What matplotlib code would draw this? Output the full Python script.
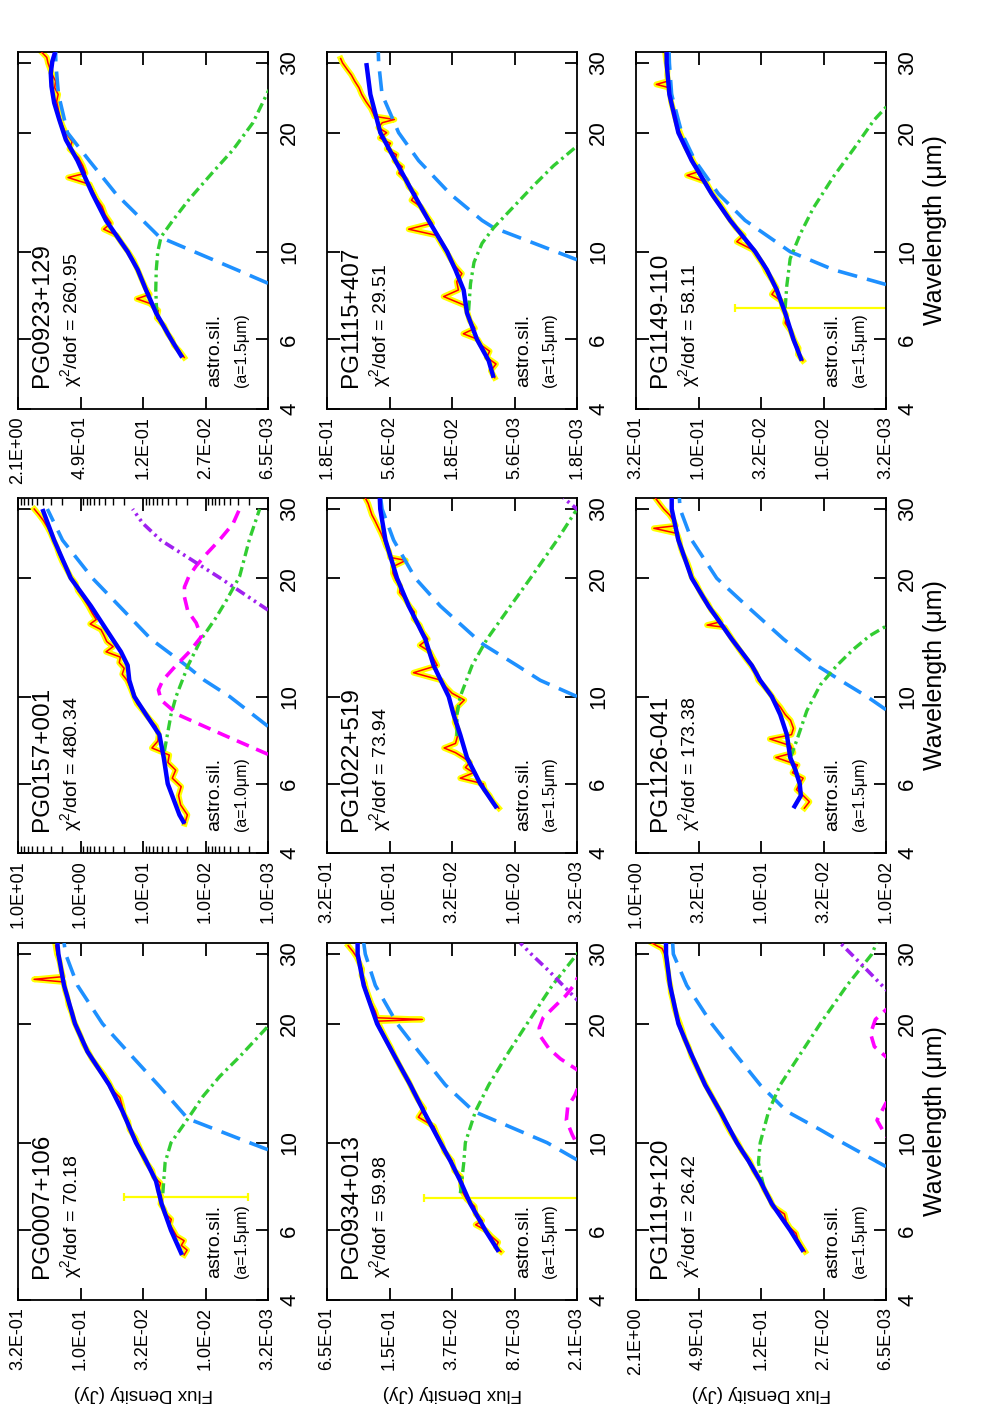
import numpy as np
import matplotlib
matplotlib.use("Agg")
import matplotlib.pyplot as plt
from matplotlib.ticker import NullLocator, LogLocator, NullFormatter

plt.rcParams['font.family'] = ['Liberation Sans', 'DejaVu Sans']
plt.rcParams['mathtext.fontset'] = 'custom'
plt.rcParams['mathtext.rm'] = 'Liberation Sans'
plt.rcParams['mathtext.it'] = 'Liberation Sans:italic'

# ---- panel labels ----
names = ["PG0923+129", "PG1115+407", "PG1149-110",
         "PG0157+001", "PG1022+519", "PG1126-041",
         "PG0007+106", "PG0934+013", "PG1119+120"]
chi2 = ["260.95", "29.51", "58.11",
        "480.34", "73.94", "173.38",
        "70.18", "59.98", "26.42"]
grain = ["1.5", "1.5", "1.5",
         "1.0", "1.5", "1.5",
         "1.5", "1.5", "1.5"]
flux_ticks = [
    ["2.1E+00", "4.9E-01", "1.2E-01", "2.7E-02", "6.5E-03"],
    ["1.8E-01", "5.6E-02", "1.8E-02", "5.6E-03", "1.8E-03"],
    ["3.2E-01", "1.0E-01", "3.2E-02", "1.0E-02", "3.2E-03"],
    ["1.0E+01", "1.0E+00", "1.0E-01", "1.0E-02", "1.0E-03"],
    ["3.2E-01", "1.0E-01", "3.2E-02", "1.0E-02", "3.2E-03"],
    ["1.0E+00", "3.2E-01", "1.0E-01", "3.2E-02", "1.0E-02"],
    ["3.2E-01", "1.0E-01", "3.2E-02", "1.0E-02", "3.2E-03"],
    ["6.5E-01", "1.5E-01", "3.7E-02", "8.7E-03", "2.1E-03"],
    ["2.1E+00", "4.9E-01", "1.2E-01", "2.7E-02", "6.5E-03"],
]
wave_ticks = [4, 6, 10, 20, 30]

# ---- PG0923+129 ----
w0923_obs = [5.4, 5.6, 5.8, 6.0, 6.2, 6.5, 6.8, 7.1, 7.4, 7.6, 7.8, 8.1, 8.5, 9.0, 9.5, 10.0, 10.5,
             11.0, 11.4, 11.8, 12.4, 13.0, 13.6, 14.2, 14.8, 15.4, 15.8, 16.5, 17.3, 18.2, 19.0,
             20.0, 21.0, 22.0, 23.0, 24.0, 25.0, 26.0, 27.0, 28.0, 29.0, 30.0, 31.0, 32.0]
f0923_obs = [0.045, 0.050, 0.057, 0.060, 0.066, 0.072, 0.085, 0.082, 0.100, 0.135, 0.100, 0.110,
             0.120, 0.132, 0.145, 0.165, 0.190, 0.215, 0.290, 0.245, 0.280, 0.300, 0.340, 0.370,
             0.400, 0.660, 0.440, 0.470, 0.520, 0.640, 0.600, 0.700, 0.760, 0.800, 0.830, 0.860,
             0.830, 0.900, 0.880, 0.950, 1.00, 1.05, 1.08, 1.22]
w0923_tot = [5.4, 6, 7, 8, 9, 10, 12, 14, 17, 19.2, 21.6, 23.8, 26.2, 28.3, 30.3, 32]
f0923_tot = [0.0472, 0.061, 0.0864, 0.109, 0.132, 0.1665, 0.275, 0.375, 0.531, 0.695, 0.81, 0.91,
             0.969, 0.985, 0.95, 0.89]
w0923_cold = [8.32, 9, 10, 10.9, 12, 14, 17, 20, 25, 30, 32]
f0923_cold = [0.0065, 0.0134, 0.0358, 0.080, 0.1176, 0.218, 0.405, 0.669, 0.824, 0.877, 0.88]
w0923_warm = [7, 8, 9, 10, 10.9, 12, 13.6, 15.9, 18.1, 21.2, 25.4, 27]
f0923_warm = [0.085, 0.087, 0.086, 0.083, 0.077, 0.0586, 0.0399, 0.0232, 0.0146, 0.0092, 0.0065, 0.0055]

# ---- PG1115+407 ----
w1115_obs = [4.8, 5.0, 5.2, 5.4, 5.6, 5.8, 6.0, 6.2, 6.4, 6.7, 7.0, 7.3, 7.7, 8.0, 8.4, 8.8, 9.2,
             9.6, 10.0, 10.5, 11.0, 11.4, 11.8, 12.4, 13.0, 13.5, 14.0, 14.6, 15.2, 15.8, 16.4,
             17.0, 17.6, 18.2, 18.8, 19.4, 20.0, 20.6, 21.2, 21.6, 22.0, 23.0, 24.0, 25.0, 26.0,
             27.0, 28.0, 29.0, 30.0, 30.8]
f1115_obs = [0.0082, 0.0088, 0.0080, 0.0095, 0.0090, 0.0105, 0.0112, 0.0146, 0.0118, 0.0130,
             0.0135, 0.0140, 0.0210, 0.0160, 0.0165, 0.0150, 0.0170, 0.0185, 0.0200, 0.0220,
             0.0240, 0.0400, 0.0260, 0.0290, 0.0320, 0.0380, 0.0350, 0.0400, 0.0420, 0.0480,
             0.0450, 0.0520, 0.0500, 0.0600, 0.0560, 0.0680, 0.0600, 0.0700, 0.0650, 0.0520,
             0.0750, 0.0800, 0.0880, 0.0950, 0.1000, 0.1080, 0.1150, 0.1250, 0.1350, 0.1400]
w1115_tot = [4.8, 5.3, 6, 7, 8, 9, 10, 12, 14, 17, 20, 25, 30]
f1115_tot = [0.00836, 0.00916, 0.01136, 0.01366, 0.01453, 0.0169, 0.0197, 0.0277, 0.0365, 0.0511,
             0.0674, 0.081, 0.0872]
w1115_cold = [9.54, 10, 11.5, 12, 14, 17, 20, 25, 30, 32]
f1115_cold = [0.0018, 0.00265, 0.00836, 0.01035, 0.0186, 0.0333, 0.0481, 0.0653, 0.0695, 0.070]
w1115_warm = [7.1, 8.3, 9.4, 10.5, 11.5, 13.0, 14.7, 16.5, 18.5, 19.5]
f1115_warm = [0.01325, 0.0128, 0.012, 0.01035, 0.00836, 0.00578, 0.0040, 0.00277, 0.0018, 0.0015]

# ---- PG1149-110 ----
w1149_obs = [5.3, 5.5, 5.7, 5.9, 6.1, 6.3, 6.6, 6.9, 7.2, 7.5, 7.8, 8.1, 8.5, 8.9, 9.3, 9.7, 10.1,
             10.6, 11.0, 11.5, 12.0, 12.6, 13.2, 13.8, 14.4, 15.0, 15.6, 16.0, 16.8, 17.6, 18.4,
             19.2, 20.0, 21.0, 22.0, 23.0, 24.0, 25.0, 26.0, 26.5, 27.0, 28.0, 29.0, 30.0, 31.0, 32.0]
f1149_obs = [0.0148, 0.0162, 0.0160, 0.0170, 0.0178, 0.0185, 0.0205, 0.0200, 0.0215, 0.0220,
             0.0262, 0.0240, 0.0262, 0.0290, 0.0310, 0.0340, 0.0370, 0.0500, 0.0440, 0.0510,
             0.0560, 0.0620, 0.0680, 0.0760, 0.0820, 0.0880, 0.1250, 0.0980, 0.1100, 0.1180,
             0.1280, 0.1350, 0.1420, 0.1500, 0.1560, 0.1620, 0.1680, 0.1700, 0.1750, 0.2200,
             0.1780, 0.1800, 0.1790, 0.1820, 0.1850, 0.1870]
w1149_tot = [5.3, 6, 7, 8, 9, 10, 12, 14, 17, 20, 25, 30, 32]
f1149_tot = [0.0151, 0.0176, 0.0205, 0.0239, 0.0287, 0.0356, 0.0565, 0.0793, 0.1146, 0.1466,
             0.173, 0.182, 0.182]
w1149_cold = [8.26, 9, 10, 12, 14, 17, 20, 25, 30, 32]
f1149_cold = [0.0032, 0.0084, 0.0187, 0.0429, 0.070, 0.108, 0.138, 0.166, 0.173, 0.174]
w1149_warm = [7.2, 8.2, 9.6, 11.1, 12.9, 15.5, 18.2, 21.5, 23.2, 25]
f1149_warm = [0.0205, 0.0199, 0.0187, 0.0155, 0.0122, 0.0084, 0.0058, 0.0040, 0.0032, 0.0026]
err1149 = [7.2, 0.021, 0.002, 0.052]  # wavelength, flux, low, high

# ---- PG0157+001 ----
w0157_obs = [4.75, 5.0, 5.3, 5.6, 5.9, 6.2, 6.5, 6.8, 7.1, 7.4, 7.7, 8.0, 8.4, 8.8, 9.2, 9.6, 10.0,
             10.5, 11.0, 11.4, 11.8, 12.2, 12.6, 13.0, 13.4, 13.8, 14.3, 14.8, 15.3, 15.7, 16.3,
             17.0, 17.8, 18.6, 19.4, 20.2, 21.0, 22.0, 23.0, 24.0, 25.0, 26.0, 27.0, 28.0, 29.0, 30.0]
f0157_obs = [0.0215, 0.0195, 0.025, 0.027, 0.0245, 0.034, 0.030, 0.040, 0.038, 0.072, 0.058,
             0.056, 0.062, 0.080, 0.100, 0.125, 0.140, 0.158, 0.180, 0.215, 0.200, 0.240, 0.230,
             0.390, 0.300, 0.380, 0.420, 0.470, 0.700, 0.560, 0.650, 0.750, 0.900, 1.10, 1.20,
             1.45, 1.65, 1.95, 2.2, 2.4, 2.7, 3.0, 3.4, 3.9, 4.6, 5.5]
w0157_tot = [4.75, 5, 6, 7, 8, 9, 10, 11, 12, 13, 14, 17, 20, 25, 30]
f0157_tot = [0.0217, 0.0261, 0.0402, 0.0466, 0.0547, 0.0895, 0.1377, 0.1656, 0.176, 0.2254, 0.307,
             0.682, 1.429, 2.645, 4.07]
w0157_cold = [8.4, 10, 11, 12, 14, 17, 20, 25, 30]
f0157_cold = [0.001, 0.0041, 0.0104, 0.0204, 0.0745, 0.24, 0.642, 1.94, 3.39]
w0157_warm = [7.26, 9, 10, 12, 14, 15.9, 17.6, 20.2, 25.2, 30]
f0157_warm = [0.0455, 0.0356, 0.0296, 0.019, 0.0117, 0.00675, 0.0046, 0.00285, 0.00197, 0.00136]
w0157_pah = [7.13, 8.0, 9.0, 9.8, 10.4, 11.0, 12.0, 13.0, 14.2, 15.4, 16.5, 17.9, 19.0, 20.2, 21.5,
             23.0, 25.0, 27.5, 30.0]
f0157_pah = [0.001, 0.00527, 0.0278, 0.0514, 0.0566, 0.0483, 0.0296, 0.0181, 0.0117, 0.0141,
             0.0192, 0.0217, 0.0217, 0.0185, 0.0141, 0.0098, 0.006, 0.00364, 0.00285]
w0157_hot = [16.6, 20, 25, 27.6, 30]
f0157_hot = [0.001, 0.00575, 0.0521, 0.101, 0.1465]

# ---- PG1022+519 ----
w1022_obs = [5.2, 5.4, 5.6, 5.8, 6.0, 6.2, 6.4, 6.6, 6.8, 7.0, 7.2, 7.4, 7.6, 7.9, 8.2, 8.6, 9.0,
             9.4, 9.8, 10.2, 10.6, 11.0, 11.5, 12.0, 12.5, 13.0, 13.5, 14.0, 14.6, 15.2, 15.8,
             16.4, 17.0, 17.7, 18.4, 19.1, 19.8, 20.6, 21.4, 22.2, 22.6, 23.4, 24.2, 25.0, 26.0,
             27.0, 28.0, 29.0, 30.0, 31.0, 32.0]
f1022_obs = [0.0135, 0.0150, 0.0160, 0.0175, 0.0180, 0.0275, 0.0215, 0.0250, 0.0230, 0.0260,
             0.0300, 0.0370, 0.0300, 0.0290, 0.0285, 0.0305, 0.0300, 0.0290, 0.0255, 0.0320,
             0.0360, 0.0390, 0.0650, 0.0420, 0.0450, 0.0480, 0.0580, 0.0500, 0.0550, 0.0580,
             0.0650, 0.0640, 0.0700, 0.0760, 0.0840, 0.0830, 0.0900, 0.0950, 0.0950, 0.0750,
             0.1000, 0.1020, 0.1080, 0.1120, 0.1180, 0.1250, 0.1320, 0.1400, 0.1450, 0.1500, 0.1580]
w1022_tot = [5.2, 6, 7, 8, 9, 10, 12, 14, 17, 20, 25, 30, 32]
f1022_tot = [0.014, 0.019, 0.0243, 0.0275, 0.0311, 0.034, 0.0449, 0.0523, 0.071, 0.0881, 0.109,
             0.12, 0.121]
w1022_cold = [10, 11, 12, 13.55, 14, 17, 20, 25, 30, 32]
f1022_cold = [0.0032, 0.0063, 0.00967, 0.01786, 0.0202, 0.0397, 0.0629, 0.0938, 0.116, 0.119]
w1022_warm = [7.93, 9, 10, 12, 14, 17, 20, 25, 30]
f1022_warm = [0.0292, 0.0292, 0.0275, 0.0221, 0.0168, 0.0109, 0.00755, 0.00462, 0.0032]
w1022_hot = [29.5, 30, 32]
f1022_hot = [0.0030, 0.0032, 0.0041]

# ---- PG1126-041 ----
w1126_obs = [5.2, 5.4, 5.6, 5.8, 6.0, 6.2, 6.4, 6.7, 7.0, 7.2, 7.5, 7.8, 8.0, 8.3, 8.7, 9.0, 9.4,
             9.8, 10.2, 10.6, 11.0, 11.5, 12.0, 12.6, 13.2, 13.8, 14.4, 15.0, 15.2, 15.5, 16.0,
             16.6, 17.2, 17.9, 18.6, 19.4, 20.2, 21.0, 22.0, 23.0, 24.0, 25.0, 26.0, 26.8, 27.2,
             28.0, 29.0, 30.0, 31.0, 32.0]
f1126_obs = [0.045, 0.041, 0.046, 0.052, 0.049, 0.046, 0.056, 0.051, 0.076, 0.055, 0.058, 0.085,
             0.057, 0.055, 0.058, 0.064, 0.070, 0.078, 0.085, 0.094, 0.105, 0.110, 0.120, 0.135,
             0.150, 0.165, 0.180, 0.195, 0.270, 0.210, 0.225, 0.250, 0.265, 0.290, 0.310, 0.330,
             0.360, 0.370, 0.390, 0.420, 0.440, 0.450, 0.470, 0.720, 0.480, 0.500, 0.540, 0.600,
             0.650, 0.700]
w1126_tot = [5.2, 5.6, 6, 6.5, 7, 8, 9, 10, 11, 12, 14, 17, 20, 25, 30, 32]
f1126_tot = [0.055, 0.048, 0.049, 0.053, 0.0584, 0.0621, 0.0702, 0.0819, 0.1016, 0.1184, 0.1713,
             0.2634, 0.358, 0.458, 0.518, 0.518]
w1126_cold = [9.26, 10, 11, 12, 14, 17, 20, 25, 30, 32]
f1126_cold = [0.01, 0.0142, 0.0232, 0.0357, 0.066, 0.13, 0.226, 0.358, 0.444, 0.45]
w1126_warm = [7.0, 7.76, 9.2, 10.7, 12.0, 13.2, 14.3, 15.1, 16]
f1126_warm = [0.058, 0.0516, 0.043, 0.0336, 0.0247, 0.0182, 0.0134, 0.01, 0.0085]

# ---- PG0007+106 ----
w0007_obs = [5.2, 5.35, 5.5, 5.65, 5.8, 6.0, 6.2, 6.4, 6.6, 6.8, 7.0, 7.3, 7.6, 7.9, 8.2, 8.5, 8.9,
             9.3, 9.8, 10.3, 10.8, 11.3, 11.8, 12.4, 13.0, 13.6, 14.2, 14.9, 15.6, 16.3, 17.0,
             17.8, 18.6, 19.5, 20.4, 21.3, 22.3, 23.3, 24.4, 25.5, 25.9, 26.3, 27.5, 28.8, 30.0, 31.5]
f0007_obs = [0.0150, 0.0142, 0.0158, 0.0150, 0.0172, 0.0183, 0.0195, 0.0190, 0.0210, 0.0218,
             0.0232, 0.0228, 0.0240, 0.0232, 0.0262, 0.0270, 0.0300, 0.0320, 0.0345, 0.0370,
             0.0410, 0.0420, 0.0455, 0.0470, 0.0490, 0.0560, 0.0600, 0.0660, 0.0740, 0.0820,
             0.0880, 0.0960, 0.1010, 0.1080, 0.1150, 0.1190, 0.1260, 0.1290, 0.1350, 0.1380,
             0.2380, 0.1400, 0.1450, 0.1490, 0.1560, 0.1600]
w0007_tot = [5.2, 6, 7, 8, 9, 10, 12, 14, 17, 20, 25, 30, 32]
f0007_tot = [0.0156, 0.0191, 0.0227, 0.0252, 0.0303, 0.0364, 0.0466, 0.0596, 0.089, 0.112, 0.137,
             0.152, 0.155]
w0007_cold = [9.6, 10, 11.5, 13.9, 17.2, 20, 25, 30, 32]
f0007_cold = [0.0032, 0.0045, 0.014, 0.0237, 0.0439, 0.0675, 0.107, 0.133, 0.137]
w0007_warm = [7.45, 8.9, 10, 11.5, 13.1, 14.7, 16.5, 19.7, 21]
f0007_warm = [0.0222, 0.0213, 0.0191, 0.0140, 0.0106, 0.0078, 0.0054, 0.0032, 0.0027]
err0007 = [7.3, 0.024, 0.0046, 0.045]

# ---- PG0934+013 ----
w0934_obs = [5.3, 5.45, 5.6, 5.8, 6.0, 6.2, 6.35, 6.6, 6.9, 7.2, 7.5, 7.8, 8.2, 8.5, 9.0, 9.5, 10.0,
             10.5, 11.0, 11.6, 12.2, 12.8, 13.5, 14.3, 15.0, 15.8, 16.6, 17.4, 18.2, 19.0, 19.8,
             20.3, 20.5, 20.7, 21.5, 22.5, 23.5, 24.5, 25.5, 26.5, 27.5, 28.5, 29.5, 30.5, 31.5]
f0934_obs = [0.0120, 0.0135, 0.0128, 0.0150, 0.0170, 0.0215, 0.0185, 0.0215, 0.0220, 0.0265,
             0.0290, 0.0300, 0.0300, 0.0350, 0.0370, 0.0440, 0.0470, 0.0520, 0.0560, 0.0800,
             0.0700, 0.0800, 0.0900, 0.1000, 0.1120, 0.1250, 0.1380, 0.1500, 0.1650, 0.1800,
             0.1950, 0.2000, 0.0730, 0.2050, 0.2150, 0.2350, 0.2500, 0.2650, 0.2750, 0.2950,
             0.2900, 0.3100, 0.3300, 0.3600, 0.4000]
w0934_tot = [5.3, 6, 7, 8, 9, 10, 12, 14, 17, 20, 25, 30, 32]
f0934_tot = [0.01264, 0.01717, 0.0242, 0.0305, 0.0384, 0.0482, 0.0707, 0.096, 0.146, 0.206, 0.280,
             0.322, 0.322]
w0934_cold = [9.05, 10, 12, 14, 17, 20, 25, 30, 32]
f0934_cold = [0.0021, 0.00417, 0.0224, 0.043, 0.0793, 0.130, 0.2145, 0.27, 0.28]
w0934_warm = [7.45, 8.9, 10, 12, 14, 17, 20, 25, 30, 31]
f0934_warm = [0.0305, 0.0282, 0.0272, 0.0216, 0.0159, 0.010, 0.0066, 0.0037, 0.0021, 0.0019]
w0934_pah = [9.6, 9.9, 10.5, 11.4, 12.3, 13.2, 13.6, 14.4, 15.3, 16.3, 17.3, 18.5, 19.5, 20.7,
             22.0, 23.5, 25.0, 26.0, 27.0]
f0934_pah = [0.0015, 0.0021, 0.00235, 0.00268, 0.0026, 0.0022, 0.0021, 0.0015, 0.0021, 0.00307,
             0.0040, 0.0048, 0.0050, 0.00457, 0.00358, 0.00274, 0.00226, 0.0021, 0.0016]
w0934_hot = [22.5, 23, 25, 27.2, 30, 32]
f0934_hot = [0.0018, 0.0021, 0.0029, 0.0040, 0.0060, 0.0077]
err0934 = [7.23, 0.028, 0.0015, 0.0709]

# ---- PG1119+120 ----
w1119_obs = [5.3, 5.5, 5.7, 5.9, 6.1, 6.3, 6.6, 6.9, 7.2, 7.6, 8.0, 8.5, 9.0, 9.5, 10.0, 10.6, 11.2,
             11.8, 12.5, 13.2, 14.0, 14.8, 15.6, 16.5, 17.4, 18.3, 19.2, 20.0, 21.0, 22.0, 23.0,
             24.0, 25.0, 26.0, 27.0, 28.0, 29.0, 30.0, 31.0, 31.5, 32.0]
f1119_obs = [0.042, 0.046, 0.050, 0.052, 0.060, 0.065, 0.068, 0.088, 0.095, 0.108, 0.118, 0.138,
             0.152, 0.180, 0.200, 0.235, 0.265, 0.290, 0.330, 0.370, 0.420, 0.470, 0.520, 0.580,
             0.620, 0.680, 0.720, 0.760, 0.820, 0.870, 0.900, 0.940, 0.950, 0.990, 1.00, 1.03,
             1.05, 1.08, 1.15, 1.30, 1.45]
w1119_tot = [5.3, 6, 7, 8, 9, 10, 12, 14, 17, 20, 25, 30, 32]
f1119_tot = [0.0437, 0.0594, 0.0909, 0.119, 0.156, 0.204, 0.30, 0.425, 0.602, 0.788, 0.956, 1.049,
             1.05]
w1119_cold = [8.7, 10, 10.8, 12, 14, 17, 20, 25, 30, 32]
f1119_cold = [0.0065, 0.0177, 0.030, 0.0643, 0.119, 0.221, 0.365, 0.65, 0.886, 0.90]
w1119_warm = [7.74, 8.9, 10, 12, 14, 17, 20, 25, 30, 32]
f1119_warm = [0.110, 0.124, 0.119, 0.098, 0.075, 0.0454, 0.0297, 0.016, 0.009, 0.0081]
w1119_pah = [10.0, 10.4, 11.4, 12.6, 13.0, 15.0, 16.5, 17.5, 18.9, 20.5, 21.7, 22.5]
f1119_pah = [0.005, 0.0065, 0.0080, 0.0065, 0.005, 0.003, 0.0065, 0.0085, 0.0093, 0.0083, 0.0065, 0.005]
w1119_hot = [23.5, 24.4, 27.9, 32]
f1119_hot = [0.0055, 0.0065, 0.0109, 0.0187]

panels = [
    dict(obs=(w0923_obs, f0923_obs), tot=(w0923_tot, f0923_tot), cold=(w0923_cold, f0923_cold),
         warm=(w0923_warm, f0923_warm)),
    dict(obs=(w1115_obs, f1115_obs), tot=(w1115_tot, f1115_tot), cold=(w1115_cold, f1115_cold),
         warm=(w1115_warm, f1115_warm)),
    dict(obs=(w1149_obs, f1149_obs), tot=(w1149_tot, f1149_tot), cold=(w1149_cold, f1149_cold),
         warm=(w1149_warm, f1149_warm), err=err1149),
    dict(obs=(w0157_obs, f0157_obs), tot=(w0157_tot, f0157_tot), cold=(w0157_cold, f0157_cold),
         warm=(w0157_warm, f0157_warm), pah=(w0157_pah, f0157_pah), hot=(w0157_hot, f0157_hot),
         minor=True),
    dict(obs=(w1022_obs, f1022_obs), tot=(w1022_tot, f1022_tot), cold=(w1022_cold, f1022_cold),
         warm=(w1022_warm, f1022_warm), hot=(w1022_hot, f1022_hot)),
    dict(obs=(w1126_obs, f1126_obs), tot=(w1126_tot, f1126_tot), cold=(w1126_cold, f1126_cold),
         warm=(w1126_warm, f1126_warm)),
    dict(obs=(w0007_obs, f0007_obs), tot=(w0007_tot, f0007_tot), cold=(w0007_cold, f0007_cold),
         warm=(w0007_warm, f0007_warm), err=err0007),
    dict(obs=(w0934_obs, f0934_obs), tot=(w0934_tot, f0934_tot), cold=(w0934_cold, f0934_cold),
         warm=(w0934_warm, f0934_warm), pah=(w0934_pah, f0934_pah), hot=(w0934_hot, f0934_hot),
         err=err0934),
    dict(obs=(w1119_obs, f1119_obs), tot=(w1119_tot, f1119_tot), cold=(w1119_cold, f1119_cold),
         warm=(w1119_warm, f1119_warm), pah=(w1119_pah, f1119_pah), hot=(w1119_hot, f1119_hot)),
]

# layout in pixels of the 984x1417 page
W, H = 984, 1417
col_left = [18, 327, 636]
row_top = [52, 498, 943]
row_h = [357, 355, 357]
pw = 250

fig = plt.figure(figsize=(W / 100, H / 100), dpi=100)

for i, p in enumerate(panels):
    r, c = divmod(i, 3)
    ax = fig.add_axes([col_left[c] / W, (H - row_top[r] - row_h[r]) / H, pw / W, row_h[r] / H])
    ax.set_xscale('log')
    ax.set_yscale('log')

    # the flux axis runs horizontally (high on the left), wavelength vertically
    if 'err' in p:
        lam, fc, flo, fhi = p['err']
        ax.errorbar([fc], [lam], xerr=[[fc - flo], [fhi - fc]], fmt='none', ecolor='#ffff00',
                    elinewidth=1.6, capsize=3, capthick=1.6, zorder=1)
    w, f = p['obs']
    ax.plot(f, w, color='#ffff00', lw=4.2, solid_joinstyle='round', zorder=2)
    ax.plot(f, w, color='#ff0000', lw=1.1, zorder=3)
    w, f = p['cold']
    ax.plot(f, w, color='#1e90ff', lw=2.6, dashes=(5.5, 2.8), zorder=4)
    w, f = p['warm']
    ax.plot(f, w, color='#32cd32', lw=2.4, dashes=(3, 1.3, 0.8, 1.3), zorder=4)
    if 'pah' in p:
        w, f = p['pah']
        ax.plot(f, w, color='#ff00ff', lw=2.6, dashes=(3.6, 2.2), zorder=4)
    if 'hot' in p:
        w, f = p['hot']
        ax.plot(f, w, color='#a020f0', lw=2.6, dashes=(2.8, 1.2, 0.7, 1.2, 0.7, 1.2), zorder=4)
    w, f = p['tot']
    ax.plot(f, w, color='#0000ff', lw=3.2, solid_capstyle='butt', zorder=6)

    labels = flux_ticks[i]
    fhi, flo = float(labels[0]), float(labels[-1])
    ax.set_xlim(fhi, flo)
    ax.set_ylim(4, 32)
    ax.set_xticks(np.geomspace(fhi, flo, len(labels)), labels)
    ax.set_yticks(wave_ticks, [str(v) for v in wave_ticks])
    ax.yaxis.set_minor_locator(NullLocator())
    if p.get('minor'):
        ax.xaxis.set_minor_locator(LogLocator(base=10, subs=np.arange(2, 10)))
        ax.xaxis.set_minor_formatter(NullFormatter())
        ax.tick_params(axis='x', which='minor', direction='in', length=5, width=1.0,
                       top=True, bottom=True)
    else:
        ax.xaxis.set_minor_locator(NullLocator())

    ax.tick_params(which='major', direction='in', length=9, width=1.3,
                   top=True, bottom=True, left=True, right=True,
                   labelleft=False, labelright=True)
    ax.tick_params(axis='x', which='major', labelrotation=90, labelsize=13, pad=5)
    ax.tick_params(axis='y', which='major', labelrotation=90, labelsize=16, pad=8)
    for t in ax.yaxis.get_major_ticks():
        t.label2.set_verticalalignment('center')
    for s in ax.spines.values():
        s.set_linewidth(1.3)

    ax.text(0.095, 0.062, names[i], transform=ax.transAxes, rotation=90,
            ha='center', va='bottom', fontsize=17.5)
    ax.text(0.212, 0.062, 'χ$^2$/dof = ' + chi2[i], transform=ax.transAxes, rotation=90,
            ha='center', va='bottom', fontsize=14)
    ax.text(0.787, 0.062, 'astro.sil.', transform=ax.transAxes, rotation=90,
            ha='center', va='bottom', fontsize=14)
    ax.text(0.892, 0.062, '(a=' + grain[i] + 'μm)', transform=ax.transAxes, rotation=90,
            ha='center', va='bottom', fontsize=11.5)

    if c == 2:
        ax.set_ylabel('Wavelength (μm)', fontsize=18, rotation=90)
        ax.yaxis.set_label_coords(1.196, 0.5)
        ax.yaxis.label.set_va('center')
        ax.yaxis.label.set_ha('center')
    if r == 2:
        ax.set_xlabel('Flux Density (Jy)', fontsize=13.5, rotation=180)
        ax.xaxis.set_label_coords(0.5, -0.262)
        ax.xaxis.label.set_va('center')
        ax.xaxis.label.set_ha('center')

fig.savefig('out.png', dpi=100)
